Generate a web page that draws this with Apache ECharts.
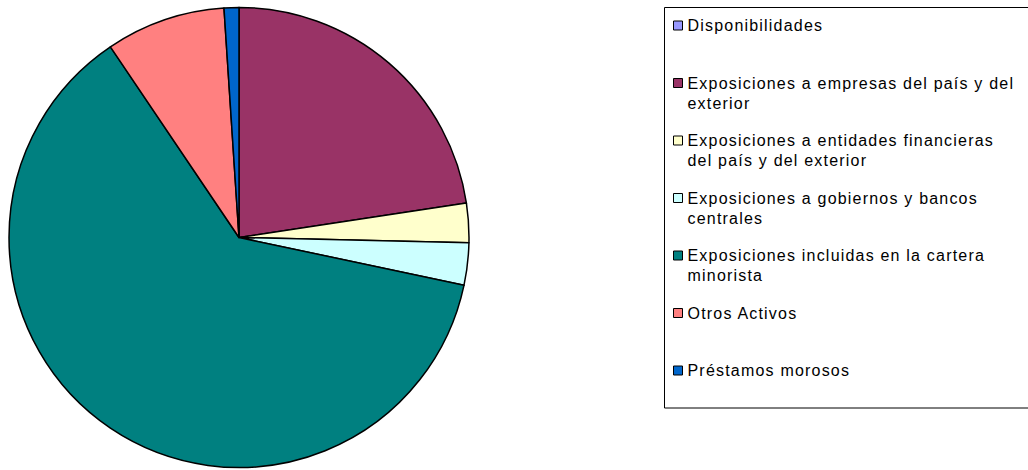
<!DOCTYPE html>
<html>
<head>
<meta charset="utf-8">
<script src="https://cdn.jsdelivr.net/npm/echarts@6/dist/echarts.min.js"></script>
<style>
html,body{margin:0;padding:0;background:#fff;}
#chart{width:1028px;height:470px;}
#chart svg text{letter-spacing:1.2px;}
</style>
</head>
<body>
<div id="chart"></div>
<script>
const categories = [
  'Disponibilidades',
  'Exposiciones a empresas del país y del exterior',
  'Exposiciones a entidades financieras del país y del exterior',
  'Exposiciones a gobiernos y bancos centrales',
  'Exposiciones incluidas en la cartera minorista',
  'Otros Activos',
  'Préstamos morosos'
];
const values = [0, 22.6, 2.75, 2.97, 62.2, 8.4, 1.04];
const colors = ['#9999FF', '#993366', '#FFFFCC', '#CCFFFF', '#008080', '#FF8080', '#0066CC'];
const legendLines = [
  ['Disponibilidades', ' '],
  ['Exposiciones a empresas del país y del', 'exterior'],
  ['Exposiciones a entidades financieras', 'del país y del exterior'],
  ['Exposiciones a gobiernos y bancos', 'centrales'],
  ['Exposiciones incluidas en la cartera', 'minorista'],
  ['Otros Activos', ' '],
  ['Préstamos morosos', ' ']
];

const chart = echarts.init(document.getElementById('chart'), null, {renderer: 'svg'});
chart.setOption({
  animation: false,
  backgroundColor: '#fff',
  color: colors,
  graphic: [{
    type: 'rect',
    shape: {x: 664.5, y: 7.5, width: 400, height: 400.5},
    style: {fill: 'none', stroke: '#000', lineWidth: 1},
    silent: true
  }],
  legend: {
    orient: 'vertical',
    left: 673,
    top: -4.5,
    padding: 0,
    itemGap: -2.5,
    itemWidth: 9,
    itemHeight: 9,
    icon: 'rect',
    selectedMode: false,
    itemStyle: {borderColor: '#000', borderWidth: 1},
    textStyle: {
      fontFamily: 'Liberation Sans, Arial, sans-serif',
      fontSize: 16,
      color: '#000',
      lineHeight: 20
    },
    formatter: function (name) {
      const i = categories.indexOf(name);
      const l = legendLines[i];
      return ' \n' + l[0] + '\n' + l[1];
    },
    data: categories
  },
  series: [{
    type: 'pie',
    center: [239, 237.5],
    radius: 230,
    startAngle: 90,
    clockwise: true,
    label: {show: false},
    labelLine: {show: false},
    emphasis: {disabled: true},
    silent: true,
    itemStyle: {borderColor: '#000', borderWidth: 1.5},
    data: categories.map((c, i) => ({name: c, value: values[i]}))
  }]
});
</script>
</body>
</html>
